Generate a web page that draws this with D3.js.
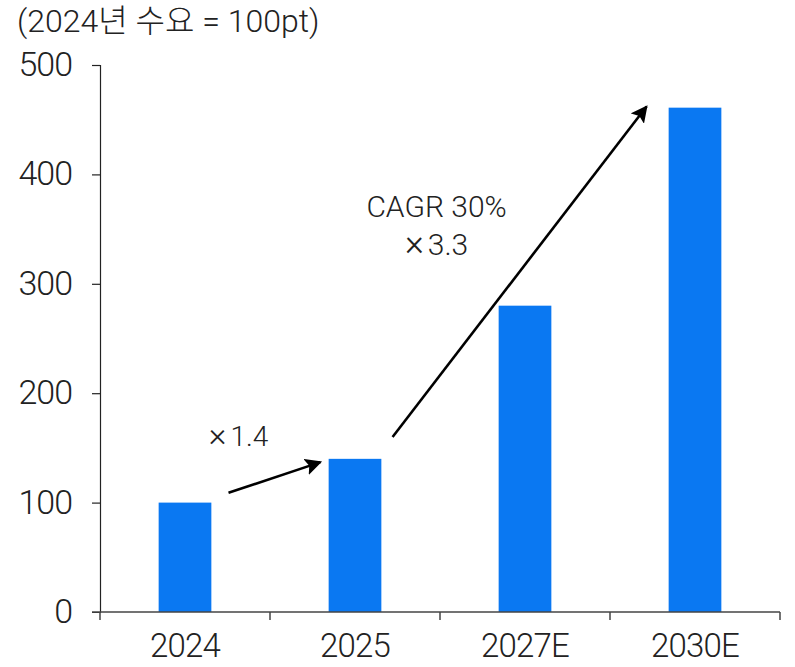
<!DOCTYPE html>
<html><head><meta charset="utf-8">
<script src="https://cdn.jsdelivr.net/npm/d3@7/dist/d3.min.js"></script>
<style>
body{margin:0;background:#fff;}
text{font-family:Roboto,"Noto Sans CJK KR",sans-serif;font-weight:300;fill:#222;}
</style></head>
<body><svg id="c" width="795" height="667"></svg>
<script>
const categories = ["2024","2025","2027E","2030E"];
const values = [100,140,280,461];
const yTicks = [0,100,200,300,400,500];
const title = "(2024년 수요 = 100pt)";
// arrows: [fromCategory, fromOffset(band-step fraction), fromValue, toCategory, toOffset, toValue]
const arrows = [
  ["2024", 0.256, 109, "2025", -0.203, 137],
  ["2025", 0.221, 160, "2030E", -0.285, 462]
];
const labels = [
  {cat:"2024", off:0.315, v:152, size:28, lines:[["×","1.4"]]},
  {cat:"2025", off:0.48, v:361, size:30, lines:[["","CAGR 30%"],["×","3.3"]]}
];

const W=795,H=667,m={l:100,r:15,t:65,b:55};
const svg=d3.select("#c");
const x=d3.scaleBand().domain(categories).range([m.l,W-m.r]).paddingInner(0.69).paddingOuter(0.345);
const y=d3.scaleLinear().domain([0,500]).range([H-m.b,m.t]);
const step=x.step();
const cx=c=>x(c)+x.bandwidth()/2;

// bars
svg.selectAll("rect.bar").data(values).join("rect")
  .attr("x",(d,i)=>x(categories[i])).attr("width",x.bandwidth())
  .attr("y",d=>y(d)).attr("height",d=>y(0)-y(d)).attr("fill","#0A78F2");

// y axis
const ya=svg.append("g").attr("transform",`translate(${m.l},0)`)
  .call(d3.axisLeft(y).tickValues(yTicks).tickSize(8).tickPadding(20));
ya.select(".domain").attr("stroke","#222").attr("stroke-width",1.2);
ya.selectAll(".tick line").attr("stroke","#222").attr("stroke-width",1.2);
ya.selectAll(".tick text").style("font-size","34px").style("letter-spacing","-1px").attr("dy","0.31em").attr("fill","#222");
ya.select(".tick:first-of-type line").remove();

// x axis
const y0=y(0);
const xa=svg.append("g");
xa.append("line").attr("x1",m.l-8).attr("x2",W-m.r).attr("y1",y0).attr("y2",y0).attr("stroke","#444").attr("stroke-width",1.5);
const edges=d3.range(categories.length+1).map(i=>m.l+i*step);
xa.selectAll("line.t").data(edges).join("line").attr("x1",d=>d).attr("x2",d=>d).attr("y1",y0).attr("y2",y0+8).attr("stroke","#444").attr("stroke-width",1.5);
xa.selectAll("text").data(categories).join("text").attr("x",d=>cx(d)).attr("y",657)
  .attr("text-anchor","middle").style("font-size","33px").style("letter-spacing","-0.8px").text(d=>d);

// title
svg.append("text").attr("x",17).attr("y",32).style("font-size","32px").text(title);

// arrows
svg.append("defs").append("marker").attr("id","ah").attr("viewBox","0 0 10 10").attr("refX",9).attr("refY",5)
  .attr("markerWidth",6.5).attr("markerHeight",6.5).attr("markerUnits","strokeWidth").attr("orient","auto")
  .append("path").attr("d","M0,0 L10,5 L0,10 L2,5 Z").attr("fill","#000");
svg.selectAll("line.arr").data(arrows).join("line")
  .attr("x1",d=>cx(d[0])+d[1]*step).attr("y1",d=>y(d[2]))
  .attr("x2",d=>cx(d[3])+d[4]*step).attr("y2",d=>y(d[5]))
  .attr("stroke","#000").attr("stroke-width",2.6).attr("marker-end","url(#ah)");

// labels: one text element per line
labels.forEach(l=>{
  l.lines.forEach((s,i)=>{
    const t=svg.append("text").attr("text-anchor","middle").style("font-size",l.size+"px")
      .attr("x",cx(l.cat)+l.off*step).attr("y",y(l.v)+i*38);
    if(s[0]) { t.append("tspan").style("font-size",(l.size*1.2)+"px").text(s[0]);
      t.append("tspan").attr("dx",4).text(s[1]); }
    else t.text(s[1]);
  });
});
</script></body></html>
